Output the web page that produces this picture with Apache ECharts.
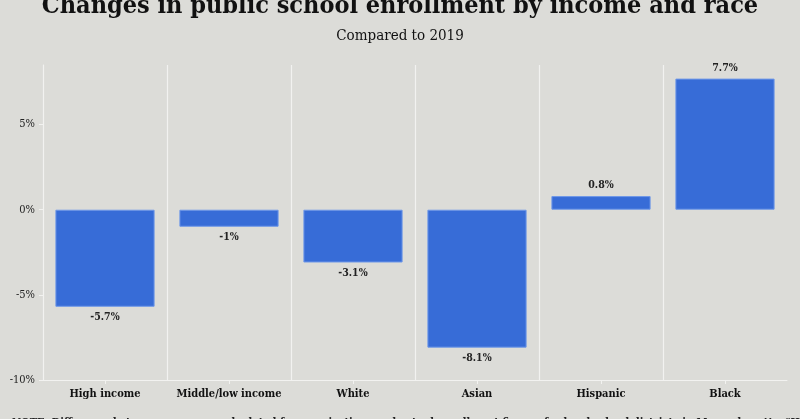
<!DOCTYPE html>
<html><head><meta charset="utf-8">
<script src="https://cdn.jsdelivr.net/npm/echarts@6/dist/echarts.min.js"></script>
<style>html,body{margin:0;padding:0;background:#dcdcd8;}#c{width:800px;height:419px;}</style>
</head><body><div id="c"></div>
<script>
const categories = ['High income', 'Middle/low income', 'White', 'Asian', 'Hispanic', 'Black'];
const values = [-5.7, -1, -3.1, -8.1, 0.8, 7.7];
const yTicks = [-10, -5, 0, 5];
const titleText = 'Changes in public school enrollment by income and race';
const subtitleText = 'Compared to 2019';
const noteText = 'NOTE: Difference between years was calculated from projections and actual enrollment figures for local school districts in Massachusetts. "High income" refers to';

const serif = '"DejaVu Serif Condensed", "DejaVu Serif", serif';
const chart = echarts.init(document.getElementById('c'), null, {renderer: 'canvas'});
chart.setOption({
  backgroundColor: '#dcdcd8',
  animation: false,
  title: [
    {text: titleText, left: 'center', top: -11, textStyle: {fontFamily: serif, fontWeight: 'bold', fontSize: 25, color: '#111'}},
    {text: subtitleText, left: 'center', top: 24, textStyle: {fontFamily: serif, fontWeight: 'normal', fontSize: 15, color: '#111'}},
    {text: noteText, left: 7, top: 413, textStyle: {fontFamily: serif, fontWeight: 'bold', fontSize: 11, color: '#222'}}
  ],
  grid: {left: 43, right: 13, top: 65, bottom: 39, containLabel: false},
  xAxis: {
    type: 'category', data: categories,
    axisLine: {show: true, onZero: false, lineStyle: {color: '#f2f2f0', width: 1}},
    axisTick: {show: true, alignWithLabel: true, interval: 0, length: 4, lineStyle: {color: '#f2f2f0'}},
    axisLabel: {interval: 0, fontFamily: serif, fontWeight: 'bold', fontSize: 11, color: '#111', margin: 9},
    splitLine: {show: true, interval: 0, showMaxLine: false, lineStyle: {color: '#f2f2f0', width: 1.2}}
  },
  yAxis: {
    type: 'value', min: -10, max: 8.5, interval: 5,
    axisLine: {show: true, lineStyle: {color: '#f2f2f0'}},
    axisTick: {show: true, length: 4, lineStyle: {color: '#f2f2f0'}},
    splitLine: {show: false},
    axisLabel: {fontFamily: serif, fontSize: 11, color: '#222', margin: 8, showMaxLabel: false,
      formatter: v => yTicks.includes(v) ? v + '%' : ''}
  },
  series: [{
    type: 'bar', barCategoryGap: '20%',
    data: values.map(v => ({value: v, label: {position: v < 0 ? 'bottom' : 'top'}})),
    itemStyle: {color: '#376cd7', borderColor: '#6e97e8', borderWidth: 1},
    label: {show: true, fontFamily: serif, fontWeight: 'bold', fontSize: 10.5, color: '#222', distance: 5,
      formatter: p => p.value + '%'}
  }]
});
</script></body></html>
